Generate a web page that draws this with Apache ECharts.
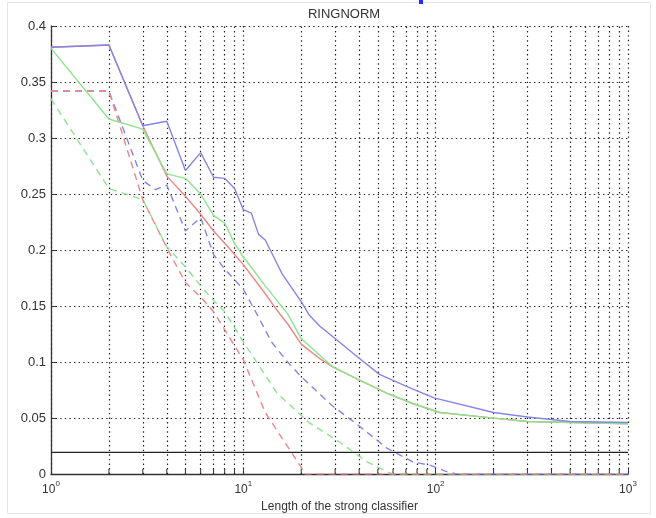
<!DOCTYPE html>
<html>
<head>
<meta charset="utf-8">
<script src="https://cdn.jsdelivr.net/npm/echarts@6/dist/echarts.min.js"></script>
<style>
  html, body { margin: 0; padding: 0; background: #fff; }
  #chart { width: 656px; height: 518px; }
</style>
</head>
<body>
<div id="chart"></div>
<script>
// Test error versus length of the strong classifier (RINGNORM)
const blueSolidX = [1, 2, 3, 4, 5, 6, 7, 8, 9, 10, 11, 12, 13, 16, 20, 22, 25, 29, 39, 51, 71, 98, 200, 300, 500, 1000];
const blueSolidY = [0.381, 0.383, 0.311, 0.315, 0.271, 0.287, 0.265, 0.264, 0.255, 0.236, 0.233, 0.214, 0.209, 0.178, 0.154, 0.142, 0.132, 0.123, 0.105, 0.089, 0.078, 0.068, 0.055, 0.051, 0.047, 0.046];

const redSolidX = [1, 2, 3, 4, 5, 6, 7, 8, 9, 10, 13, 15, 17, 20, 25, 29, 39, 56, 76, 105, 200, 300, 1000];
const redSolidY = [0.381, 0.383, 0.311, 0.266, 0.248, 0.232, 0.217, 0.206, 0.196, 0.187, 0.161, 0.146, 0.134, 0.116, 0.103, 0.096, 0.085, 0.072, 0.063, 0.055, 0.050, 0.047, 0.045];

const greenSolidX = [1, 2, 3, 4, 5, 6, 7, 8, 9, 10, 13, 17, 20, 29, 39, 56, 76, 105, 200, 300, 1000];
const greenSolidY = [0.380, 0.317, 0.308, 0.268, 0.264, 0.250, 0.231, 0.224, 0.206, 0.194, 0.168, 0.143, 0.121, 0.096, 0.085, 0.072, 0.063, 0.055, 0.050, 0.047, 0.045];

const blueDashX = [1, 2, 3, 3.5, 4, 5, 6, 7, 8, 10, 12, 14, 17, 20, 29, 40, 56, 76, 93, 115, 130, 1000];
const blueDashY = [0.342, 0.342, 0.262, 0.254, 0.258, 0.217, 0.229, 0.196, 0.183, 0.165, 0.140, 0.118, 0.100, 0.087, 0.061, 0.043, 0.023, 0.011, 0.008, 0.002, 0, 0];

const redDashX = [1, 2, 3, 4, 5, 6, 7, 10, 13, 20, 21, 1000];
const redDashY = [0.342, 0.342, 0.245, 0.202, 0.171, 0.158, 0.145, 0.102, 0.055, 0.006, 0, 0];

const greenDashX = [1, 2, 3, 4, 5, 6, 7, 8, 10, 15, 22, 32, 44, 56, 60, 1000];
const greenDashY = [0.335, 0.255, 0.245, 0.203, 0.185, 0.168, 0.155, 0.145, 0.118, 0.072, 0.046, 0.028, 0.011, 0.002, 0, 0];

const baselineX = [1, 1000];
const baselineY = [0.0194, 0.0194];

// minor decade positions for the log grid
const minorX = [2, 3, 4, 5, 6, 7, 8, 9, 20, 30, 40, 50, 60, 70, 80, 90, 200, 300, 400, 500, 600, 700, 800, 900];

const pairs = (xs, ys) => xs.map((x, i) => [x, ys[i]]);

const BLUE = '#8585e8';
const RED = '#ef8585';
const GREEN = '#8ee48e';
const AX = '#333';
const FONT = 'Liberation Sans, Arial, sans-serif';
const dotted = { color: '#222', width: 1.2, type: [1.4, 3.2] };

const chart = echarts.init(document.getElementById('chart'), null, { renderer: 'canvas' });

function lineSeries(name, xs, ys, color, dashed, z) {
  return {
    name, type: 'line', data: pairs(xs, ys),
    showSymbol: false, symbol: 'none', silent: true, animation: false,
    z: z,
    lineStyle: { color, width: 1.4, type: dashed ? [7, 5] : 'solid' }
  };
}

chart.setOption({
  animation: false,
  backgroundColor: '#fff',
  title: {
    text: 'RINGNORM',
    left: 339, top: 3, textAlign: 'center',
    textStyle: { fontFamily: FONT, fontSize: 13, fontWeight: 'normal', color: '#333' }
  },
  graphic: [
    { type: 'rect', shape: { x: 7.5, y: 2.5, width: 643, height: 511 }, style: { fill: 'none', stroke: '#e6e6e6', lineWidth: 1 }, silent: true, z: -10 },
    { type: 'rect', shape: { x: 419, y: 0, width: 4, height: 4 }, style: { fill: '#2a2aff' }, silent: true }
  ],
  grid: { left: 51, right: 28, top: 26, bottom: 39, containLabel: false },
  xAxis: {
    type: 'log', logBase: 10, min: 1, max: 1000,
    name: 'Length of the strong classifier',
    nameLocation: 'middle', nameGap: 22,
    nameTextStyle: { fontFamily: FONT, fontSize: 12, color: '#333', verticalAlign: 'top' },
    axisLine: { lineStyle: { color: AX, width: 1.3 } },
    axisTick: { inside: true, length: 5, lineStyle: { color: AX } },
    splitLine: { show: true, lineStyle: dotted },
    axisLabel: {
      margin: 6,
      formatter: v => '{b|10}{s|' + Math.round(Math.log10(v)) + '}',
      rich: {
        b: { fontFamily: FONT, fontSize: 12, color: '#333', lineHeight: 16, verticalAlign: 'bottom' },
        s: { fontFamily: FONT, fontSize: 8, color: '#333', lineHeight: 8, verticalAlign: 'top' }
      }
    }
  },
  yAxis: {
    type: 'value', min: 0, max: 0.4, interval: 0.05,
    axisLine: { show: true, lineStyle: { color: AX, width: 1.3 } },
    axisTick: { show: true, inside: true, length: 5, lineStyle: { color: AX } },
    splitLine: { show: true, lineStyle: dotted },
    axisLabel: { margin: 5, fontFamily: FONT, fontSize: 13, color: '#333' }
  },
  series: [
    {
      name: 'minor-grid', type: 'line', data: [], silent: true, z: 1,
      markLine: {
        silent: true, symbol: 'none', animation: false,
        label: { show: false },
        lineStyle: dotted,
        data: minorX.map(x => ({ xAxis: x }))
      }
    },
    {
      name: 'minor-ticks', type: 'custom', silent: true, z: 3,
      data: minorX.map(x => [x, 0]),
      renderItem: (params, api) => {
        const p = api.coord([api.value(0), 0]);
        return { type: 'line', shape: { x1: p[0], y1: p[1], x2: p[0], y2: p[1] - 5 }, style: { stroke: AX, lineWidth: 1 } };
      }
    },
    lineSeries('baseline', baselineX, baselineY, '#222', false, 4),
    lineSeries('green dashed', greenDashX, greenDashY, GREEN, true, 5),
    lineSeries('blue dashed', blueDashX, blueDashY, BLUE, true, 5),
    lineSeries('red dashed', redDashX, redDashY, RED, true, 6),
    lineSeries('red', redSolidX, redSolidY, RED, false, 7),
    lineSeries('green', greenSolidX, greenSolidY, GREEN, false, 8),
    lineSeries('blue', blueSolidX, blueSolidY, BLUE, false, 9)
  ]
});
</script>
</body>
</html>
